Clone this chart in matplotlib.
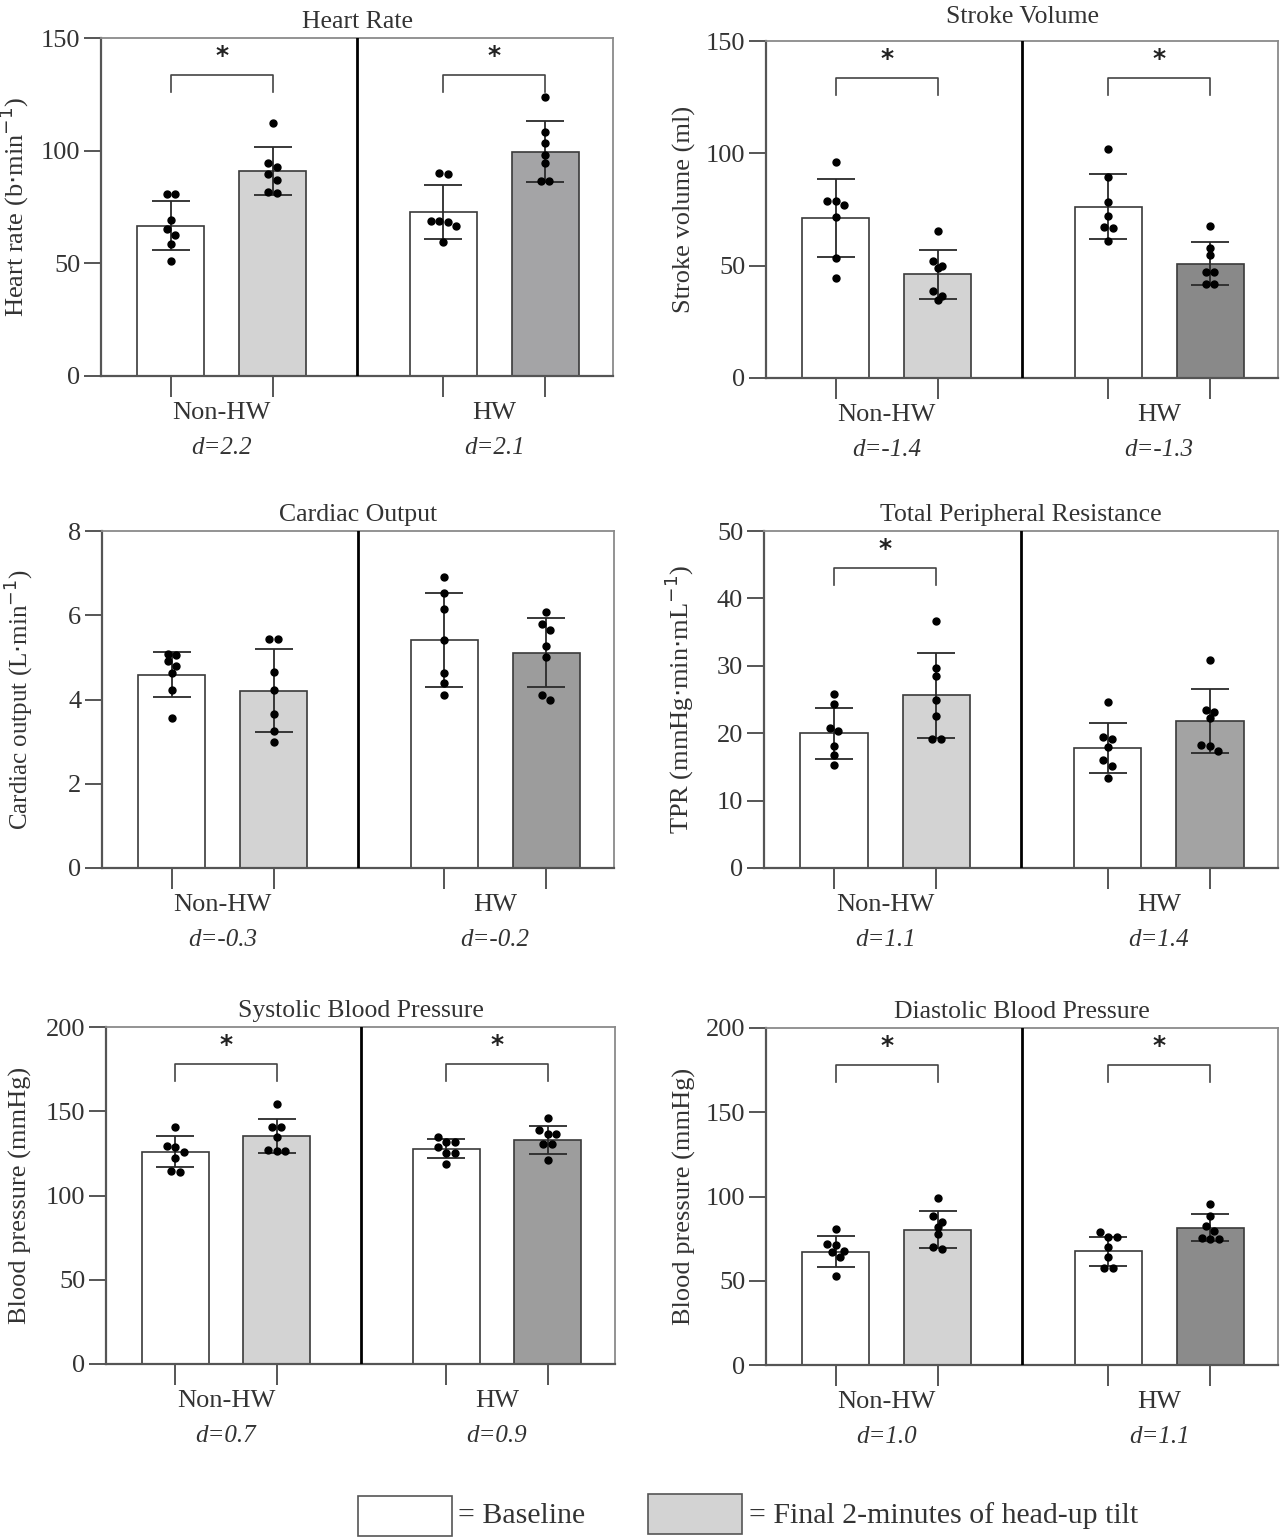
import matplotlib.pyplot as plt
from matplotlib.patches import Rectangle
from matplotlib.transforms import blended_transform_factory

plt.rcParams['font.family'] = ['Liberation Serif', 'DejaVu Serif']

groups = ["Non-HW", "HW"]
legend_labels = ["= Baseline", "= Final 2-minutes of head-up tilt"]

# each panel: bar order = Non-HW baseline, Non-HW tilt, HW baseline, HW tilt
titles = ["Heart Rate", "Stroke Volume", "Cardiac Output",
          "Total Peripheral Resistance", "Systolic Blood Pressure", "Diastolic Blood Pressure"]
ylabels = [r"Heart rate (b$\cdot$min$^{-1}$)", "Stroke volume (ml)",
           r"Cardiac output (L$\cdot$min$^{-1}$)", r"TPR (mmHg$\cdot$min$\cdot$mL$^{-1}$)",
           "Blood pressure (mmHg)", "Blood pressure (mmHg)"]
ymax = [150, 150, 8, 50, 200, 200]
ystep = [50, 50, 2, 10, 50, 50]
d_values = [["d=2.2", "d=2.1"], ["d=-1.4", "d=-1.3"], ["d=-0.3", "d=-0.2"],
            ["d=1.1", "d=1.4"], ["d=0.7", "d=0.9"], ["d=1.0", "d=1.1"]]
significant = [[True, True], [True, True], [False, False],
               [True, False], [True, True], [True, True]]

hr_means = [66.7, 91.0, 72.8, 99.6]
hr_sd = [10.9, 10.5, 12.0, 13.4]
hr_points = [[80.8, 80.8, 69.2, 65.1, 62.5, 58.4, 51.0],
             [112.5, 94.7, 92.9, 89.7, 87.0, 81.8, 81.1],
             [90.3, 89.7, 68.9, 68.9, 68.5, 66.5, 59.3],
             [123.8, 108.5, 103.3, 98.1, 94.4, 86.7, 86.7]]

sv_means = [71.1, 46.2, 76.3, 50.9]
sv_sd = [17.4, 10.9, 14.5, 9.7]
sv_points = [[96.0, 78.8, 78.8, 77.0, 71.8, 53.3, 44.7],
             [65.6, 52.1, 50.0, 49.0, 38.8, 36.3, 34.5],
             [101.9, 89.6, 78.2, 72.1, 67.4, 66.6, 61.2],
             [67.8, 57.8, 54.8, 47.4, 47.4, 41.9, 41.9]]

co_means = [4.59, 4.21, 5.42, 5.11]
co_sd = [0.54, 0.99, 1.12, 0.82]
co_points = [[5.08, 5.05, 4.92, 4.80, 4.62, 4.22, 3.57],
             [5.44, 5.44, 4.65, 4.22, 3.66, 3.25, 2.98],
             [6.91, 6.54, 6.15, 5.42, 4.63, 4.39, 4.10],
             [6.07, 5.79, 5.65, 5.28, 5.00, 4.10, 4.00]]

tpr_means = [20.0, 25.6, 17.8, 21.8]
tpr_sd = [3.8, 6.3, 3.7, 4.7]
tpr_points = [[25.8, 24.3, 20.7, 20.3, 18.1, 16.7, 15.3],
              [36.6, 29.7, 28.5, 24.9, 22.5, 19.2, 19.1],
              [24.6, 19.5, 19.1, 17.9, 16.0, 15.2, 13.4],
              [30.9, 23.4, 23.1, 22.2, 18.2, 18.1, 17.4]]

sbp_means = [126.0, 135.5, 127.8, 133.1]
sbp_sd = [9.3, 10.0, 5.6, 8.4]
sbp_points = [[140.4, 129.4, 128.6, 126.0, 122.5, 114.8, 113.8],
              [154.2, 140.8, 140.4, 134.5, 127.0, 126.6, 126.6],
              [134.5, 131.6, 131.6, 128.6, 125.2, 125.2, 118.7],
              [145.8, 139.1, 136.5, 136.5, 130.6, 130.6, 121.1]]

dbp_means = [67.3, 80.4, 67.6, 81.6]
dbp_sd = [9.0, 10.8, 8.6, 8.0]
dbp_points = [[80.6, 71.6, 71.2, 67.8, 67.3, 64.3, 52.9],
              [99.1, 88.3, 85.0, 82.0, 77.7, 70.2, 68.6],
              [78.7, 76.1, 76.1, 70.2, 64.3, 57.8, 57.8],
              [95.8, 88.5, 82.4, 79.6, 75.1, 74.5, 74.5]]

all_means = [hr_means, sv_means, co_means, tpr_means, sbp_means, dbp_means]
all_sd = [hr_sd, sv_sd, co_sd, tpr_sd, sbp_sd, dbp_sd]
all_points = [hr_points, sv_points, co_points, tpr_points, sbp_points, dbp_points]

light_grey = "#d3d3d3"
dark_greys = ["#a4a4a6", "#898989", "#9c9c9c", "#a3a3a3", "#9d9d9d", "#8b8b8b"]
text_col = "#333333"

# axes boxes in pixels: left, top, right, bottom
boxes = [(101, 38, 613, 376), (766, 41, 1278, 378),
         (102, 531, 614, 868), (764, 531, 1278, 868),
         (106, 1027, 615, 1364), (766, 1028, 1278, 1365)]
title_pads = [7, 13, 7, 7, 7, 7]
ylabel_gap = [70, 70, 66, 68, 74, 70]
ylabel_size = [19, 19, 18, 19, 19, 19]

W, H = 1280, 1538
fig = plt.figure(figsize=(W / 100, H / 100), dpi=100)

XMAX = 5.03
positions = [0.686, 1.686, 3.363, 4.363]
centers = [1.186, 3.863]
divider = 2.515


def swarm_offsets(values, px_x, px_y, diam=6.5):
    # group close values into rows and centre each row on the bar
    order = sorted(range(len(values)), key=lambda i: -values[i])
    offs = [0.0] * len(values)
    rows = []
    for i in order:
        if rows and abs(values[rows[-1][0]] - values[i]) * px_y < diam:
            rows[-1].append(i)
        else:
            rows.append([i])
    step = 1.3 * diam / px_x
    for row in rows:
        n = len(row)
        for k, i in enumerate(row):
            offs[i] = (k - (n - 1) / 2) * step
    return offs


for p in range(6):
    l, t, r, b = boxes[p]
    ax = fig.add_axes([l / W, 1 - b / H, (r - l) / W, (b - t) / H])
    ax.set_xlim(0, XMAX)
    ax.set_ylim(0, ymax[p])
    px_x = (r - l) / XMAX
    px_y = (b - t) / ymax[p]

    colors = ["white", light_grey, "white", dark_greys[p]]
    ax.bar(positions, all_means[p], width=0.66, color=colors,
           edgecolor="#3a3a3a", linewidth=1.2, zorder=2)
    ax.errorbar(positions, all_means[p], yerr=all_sd[p], fmt="none",
                ecolor="#2a2a2a", elinewidth=1.3, capsize=14, capthick=1.3, zorder=3)
    for k in range(4):
        vals = all_points[p][k]
        offs = swarm_offsets(vals, px_x, px_y)
        ax.plot([positions[k] + o for o in offs], vals, "o", color="black",
                markersize=5, zorder=4, clip_on=False)

    # significance brackets
    for g in range(2):
        if significant[p][g]:
            x1, x2 = positions[2 * g], positions[2 * g + 1]
            top = 0.89 * ymax[p]
            leg = 0.05 * ymax[p]
            ax.plot([x1, x1, x2, x2], [top - leg, top, top, top - leg],
                    color="#444444", lw=1.2, zorder=3)
            ax.text((x1 + x2) / 2, 0.948 * ymax[p], "*", ha="center", va="center",
                    fontsize=18, fontweight="bold", color="#222222",
                    family="DejaVu Sans")

    ax.axvline(divider, color="black", lw=2, zorder=5)

    ax.set_yticks(range(0, ymax[p] + 1, ystep[p]))
    ax.set_xticks(positions)
    ax.set_xticklabels([])
    ax.tick_params(axis="y", length=12, width=1.4, colors="#555555",
                   labelsize=19, labelcolor=text_col, pad=3)
    ax.tick_params(axis="x", length=15, width=1.4, colors="#555555")
    for side in ["left", "bottom"]:
        ax.spines[side].set_color("#555555")
        ax.spines[side].set_linewidth(1.6)
    for side in ["top", "right"]:
        ax.spines[side].set_color("#8a8a8a")
        ax.spines[side].set_linewidth(1.3)

    ax.set_title(titles[p], fontsize=18.5, color=text_col, pad=title_pads[p])
    ax.set_ylabel(ylabels[p], fontsize=ylabel_size[p], color=text_col)
    ax.yaxis.set_label_coords(-ylabel_gap[p] / (r - l), 0.5)

    trans = blended_transform_factory(ax.transData, ax.transAxes)
    for g in range(2):
        ax.text(centers[g], -37 / (b - t), groups[g], transform=trans,
                ha="center", va="center", fontsize=19, color=text_col)
        ax.text(centers[g], -72 / (b - t), d_values[p][g], transform=trans,
                ha="center", va="center", fontsize=18, style="italic", color=text_col)

# legend at the bottom
fig.patches.append(Rectangle((358 / W, 1 - 1536 / H), 94 / W, 40 / H,
                             transform=fig.transFigure, facecolor="white",
                             edgecolor="#555555", lw=1.2))
fig.patches.append(Rectangle((648 / W, 1 - 1534 / H), 94 / W, 40 / H,
                             transform=fig.transFigure, facecolor=light_grey,
                             edgecolor="#555555", lw=1.2))
fig.text(458 / W, 1 - 1516 / H, legend_labels[0], fontsize=21.5, color=text_col, va="center")
fig.text(749 / W, 1 - 1516 / H, legend_labels[1], fontsize=21.5, color=text_col, va="center")

fig.savefig("out.png", dpi=100)
